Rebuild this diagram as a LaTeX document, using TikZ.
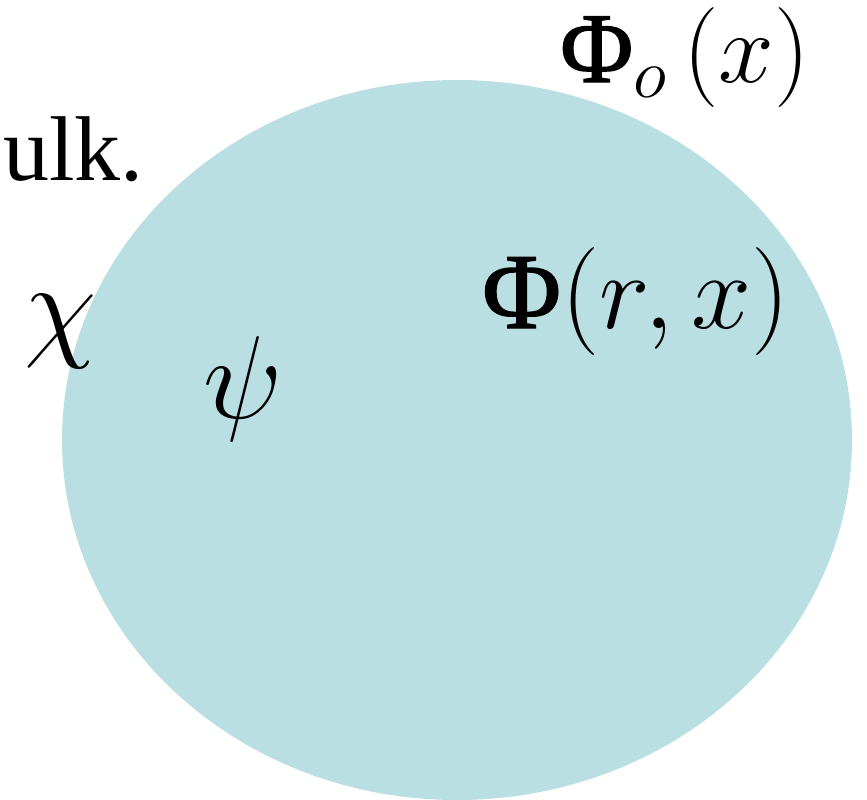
\documentclass[tikz,border=0pt]{standalone}
\usepackage{fix-cm}
\usepackage{fontspec}
\setmainfont{Liberation Serif}
\newfontfamily\phifont[FakeBold=1.2]{Liberation Serif}
\definecolor{disk}{HTML}{B9DFE2}
\tikzset{lbl/.style={anchor=base west,inner sep=0pt,text=black}}
\begin{document}
\begin{tikzpicture}[x=1pt,y=-1pt]
\useasboundingbox (0,0) rectangle (867,800);
\fill[disk] (457,440) ellipse [x radius=395, y radius=360];
\node[lbl,font=\fontsize{100}{110}\selectfont] (phio) at (560,82) {{\phifont Φ}$_{o}\,(x)$};
\node[lbl,font=\fontsize{92}{100}\selectfont] (bulk) at (3,180) {ulk.};
\node[lbl,font=\fontsize{118}{120}\selectfont] (chi) at (24,345) {$\chi$};
\node[lbl,font=\fontsize{118}{120}\selectfont] (psi) at (203,418) {$\psi$};
\node[lbl,font=\fontsize{108}{120}\selectfont] (phir) at (482,328) {{\phifont Φ}$(r,x)$};
\end{tikzpicture}
\end{document}
